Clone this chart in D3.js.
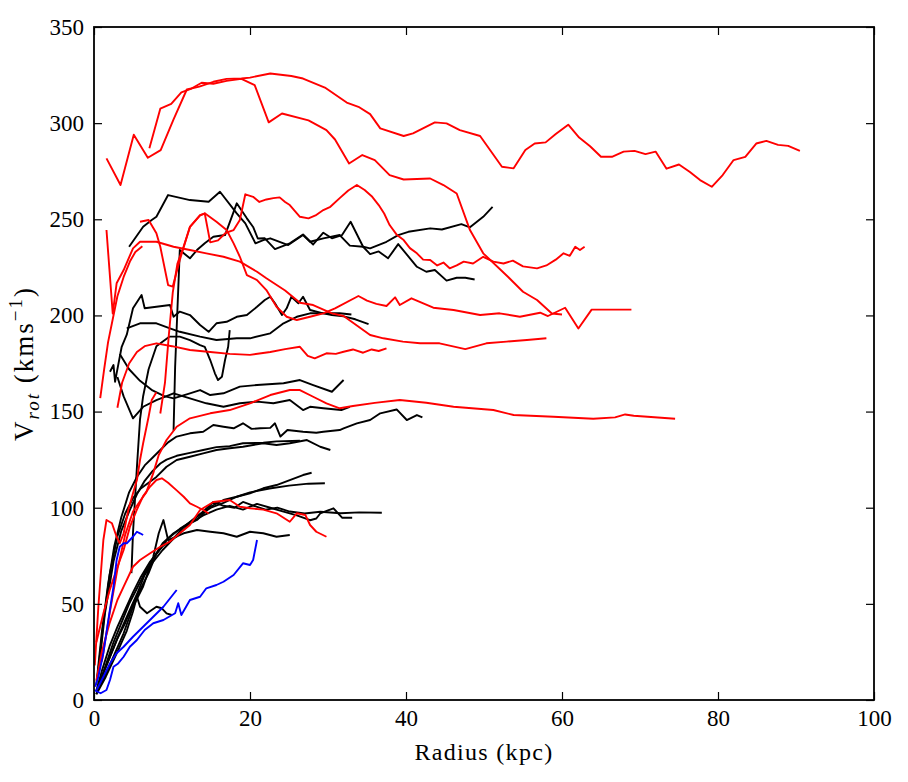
<!DOCTYPE html>
<html>
<head>
<meta charset="utf-8">
<script src="https://cdn.jsdelivr.net/npm/d3@7"></script>
<style>
  html, body { margin: 0; padding: 0; background: #fff; }
  svg { display: block; }
</style>
</head>
<body>
<svg id="chart" width="908" height="782"></svg>
<script>
// ---------------- data ----------------
const xTicks = [0, 20, 40, 60, 80, 100];
const yTicks = [0, 50, 100, 150, 200, 250, 300, 350];

// red curves [radius kpc, velocity km/s]
const r1 = [[1.6,281.7],[3.4,267.8],[5.1,294],[6.9,282],[8.55,286],[10.2,302],[11.9,317.5],[13.5,319],[15.3,321.5],[17,323],[18.9,323.2],[20,323.7],[22.6,325.8],[25.3,324.5],[26.8,323.2],[29.6,318.5],[32.4,310.7],[33.9,308.5],[35.4,304.7],[36.7,297.3],[39.7,293.3],[40.9,294.7],[43.7,300.4],[45.2,299.9],[46.9,296.4],[49.5,293.3],[52.3,277.3],[53.8,276.5],[55.3,286],[56.5,289.4],[57.9,290],[59.2,294.3],[60.8,299.2],[62.2,292.5],[63.6,288],[65,282.5],[66.4,282.5],[67.9,285.2],[69.3,285.6],[70.7,283.9],[72,285.2],[73.4,276.3],[75,278.5],[76.4,274.6],[77.7,270.4],[79.2,266.9],[80.6,273],[82,280.8],[83.5,282.5],[84.9,289.4],[86.2,290.8],[87.7,288.7],[89,288.2],[90.5,285.6]];
const r2 = [[7.1,287],[8.5,307.5],[9.9,310],[11.2,316],[12.5,318],[13.8,321],[15.3,320.5],[17,322],[18.9,323],[20.6,319.8],[22.4,300.4],[24.1,305],[27.5,301.4],[29.8,296.4],[30.9,291.5],[32.7,279],[34.4,283.4],[36,280.8],[37.9,273],[39.7,270.7],[43.1,271.2],[44.8,267.8],[46.5,263.4],[48.2,244.4],[49.9,232.3],[53.1,220],[55,212.3],[56.8,208],[58.7,201],[60,200.5]];
const r3 = [[8.5,149],[9.1,165],[9.6,190],[10.1,212],[10.7,227],[11.5,236],[12.3,246],[13.6,252],[14.2,253],[14.9,238],[15.9,239],[16.9,243],[17.9,244.4],[18.7,249.6],[19.4,263],[20.4,261.7],[21.2,259],[22.1,260.3],[23,261],[23.8,261.4],[24.5,259],[25.1,257.4],[26.4,251.3],[27.5,250.5],[28.4,252],[29.4,254.8],[30.3,256.5],[31.5,261],[32.6,265],[33.7,267.8],[34.7,265.2],[35.6,262],[36.5,257.4],[37.2,253],[37.9,247],[38.8,242],[39.7,239.2],[40.5,235],[41.4,232.3],[42.2,229],[43.1,228.8],[44,226],[44.8,227.5],[45.6,224.5],[46.5,226],[47.4,228],[48.6,227],[49.9,230.5],[51.2,228],[52.5,227],[53.7,228.5],[55,225.5],[56.8,224.5],[58,226],[59.2,229],[60.2,232.3],[61,231],[61.7,235.7],[62.3,234],[62.9,235.7]];
const r4 = [[1.6,244.4],[2.4,201],[2.9,216.7],[3.8,223.6],[5,234.9],[5.9,238.3],[8,238.3],[10.2,235.7],[12.3,234],[14.4,232.3],[16.6,230.5],[18.7,228],[20.9,222.7],[22.1,219.3],[24.5,213],[26.4,206.6],[28.1,205.4],[30.5,201.1],[32,199.7],[35.4,189.8],[37.1,188.1],[39.6,186.4],[41.8,185.5],[44.3,185.5],[47.6,182.5],[50.3,185.5],[52.9,186.4],[55.5,187.2],[58,188.1]];
const r5 = [[5.9,248.7],[7,249.6],[8,242.7],[8.5,235.7],[9.5,215.8],[10.1,215],[11,228.8],[12.3,246.1],[13.6,252.2],[14.2,253.1],[15.7,248.7],[17,244.4],[17.9,237.5],[18.7,230.5],[19.6,221],[20.9,218.4],[22.1,213.2],[23.4,204.5],[24.7,199.3],[26,197.6],[27.7,199.3],[29.4,201.1],[30.9,203.7],[33.9,210.1],[35,207.7],[36.2,206],[37.5,204.9],[38.6,209.4],[39.2,205.4],[40.7,208.9],[43.5,204],[46.1,202.8],[49.5,200.2],[52,201.1],[54.6,199.3],[57.2,201.4],[58.2,199.7],[60.4,204],[62.1,193.2],[63.8,203],[68.9,203]];
const r6 = [[1,20],[2,45],[3,68],[4,86],[5,98],[6,104],[6.7,108],[7.6,118],[8.3,127.4],[9.3,135.2],[10.6,142.1],[12.3,146.5],[14.9,149.1],[17.4,150.8],[20,154.3],[22.6,158.6],[25.1,161.2],[26.4,161.2],[28.1,157.7],[29.8,154.3],[31.5,151.7],[33.2,152.9],[36,154.5],[39.2,156],[42.6,154.6],[46.1,152.5],[51.2,150.8],[53.8,148.2],[58.9,147.3],[64,146.3],[66.8,147],[68.1,148.5],[69.2,147.8],[74.5,146.3]];
const r7 = [[3,152],[3.6,165],[4.5,175],[5.5,181],[6.5,184],[8,185.5],[10,184],[12.3,182],[14.9,181],[17.4,180],[20,179.5],[22.6,181],[24.5,182.5],[26.4,183.7],[27.4,179],[28.3,177.7],[29.8,180.3],[31,180],[32,181.1],[33.2,182.3],[34.5,180.6],[35.6,182.3],[36.5,181.5],[37.5,182.9]];
const r8 = [[0.3,30],[1.2,45],[2,57],[2.9,68],[3.8,78],[4.6,90],[5.5,99],[6.3,106],[7.2,111],[8,114.4],[8.7,115.3],[9.5,113],[10.6,109],[11.5,105.7],[12.3,102.3],[13.2,100.5],[14,98.8],[14.7,97]];
const r9 = [[0.1,18],[0.56,48.5],[1.2,83.2],[1.6,93.6],[2.3,91.9],[2.9,84.9],[3.3,81.5],[3.8,86.7],[4.4,98.8],[5,107.5],[5.5,114.4],[5.9,124.8],[6.3,133.5],[7,147.3],[7.4,156],[8,160]];
const r10 = [[0.3,10],[1,25],[2,40],[3,52],[3.8,59],[5,69.3],[5.9,72.8],[7.2,76.3],[8.5,79.7],[9.7,82.3],[11,86.7],[12.3,91],[13.6,98.8],[15.3,103],[17.4,104],[18.7,100.5],[20,99.7],[21.7,99],[23.4,97.1],[25.1,92.7],[26,97.1],[27.1,96.2],[27.7,91],[28.5,87.5],[29.8,84.9]];
const r11 = [[0.8,157],[1.3,172],[1.8,186],[2.4,198],[3,210],[3.8,220],[4.6,228],[5.3,233],[6.2,236]];

// black curves
const b1 = [[4.5,235.7],[6.3,246.1],[7.4,249.6],[8,251.3],[9.5,262.6],[12.3,260],[14.7,259.1],[16.15,264.3],[18.3,253.1],[19.4,247.9],[20.7,237.5],[21.7,239.2],[22.6,240.1],[24.9,236.6],[26.8,241.8],[27.7,238.3],[29.4,240.1],[31.5,241.8],[32.8,236.3],[34.5,235.7],[35.4,234.9],[37.5,238.3],[39,241.8],[40.3,243.5],[43.1,245.3],[44.6,244.7],[47.1,247.5],[48.2,245.8],[49.9,251.3],[51.1,256.5]];
const b2 = [[10.2,140],[10.4,173],[11,234],[12.3,229.7],[13.2,234],[14.2,237.5],[15.3,240.9],[16.8,241.8],[18.3,258.3],[19.6,250.5],[20.4,246],[21,240],[21.9,240.1],[23.2,234.5],[25.1,237.5],[26.8,242.1],[28.1,236.9],[29.4,243],[30.5,240.1],[31.8,241.8],[32.9,248.7],[34.5,235.7],[35.4,231.9],[36.5,233.3],[37.7,229.7],[39,237.1],[41.4,225.3],[42.6,222.7],[43.7,223.6],[45.2,218.1],[46.5,219.6],[47.6,219.6],[48.8,218.7]];
const b3 = [[4.2,193.3],[5.9,195.9],[8,195.9],[9.74,193.3],[11,191.5],[13.6,189],[15.7,187.2],[18.3,188.1],[20,188.1],[22.6,190.7],[24.3,195.9],[26,199.3],[27.7,201.1],[29.4,201.1],[31.5,201.1],[33,200.5]];
const b4 = [[2.05,170.7],[2.5,174.2],[2.7,165.5],[2.9,169.9],[3.55,183.7],[4.2,190],[5,203.7],[6.1,210.6],[6.5,203.7],[8,204.5],[9.74,205.4],[10.2,199.3],[11,202],[12.3,200.2],[13.6,195],[14.7,191.5],[15.7,195.9],[17,196.7],[18.3,199.3],[19.6,200.2],[20.9,204.5],[21.9,208],[22.6,209.7],[23.2,206.3],[24.1,200.2],[24.7,203.7],[25.3,209.7],[26.2,206.3],[26.8,209.7],[27.7,202.8],[29.4,201.1],[30.5,200.2],[32,199.5],[33.5,198],[35.2,195.5]];
const b5 = [[3.3,180],[4.5,172],[5.9,166],[7.5,161],[9,158],[10.2,156.9],[12.3,159.5],[13.6,161.2],[14.9,158.6],[16.6,159.5],[18.7,163],[20.9,163.8],[24.3,164.7],[26.4,166.4],[28.1,163.8],[30.5,160.3],[32,166.4]];
const b6 = [[3.0,168],[3.8,157.9],[5,146.5],[6.3,152.5],[8,156],[10.2,159.5],[12.3,156.9],[14.4,154.3],[16.6,152.5],[18.7,154.3],[20.9,155.2],[23,154.3],[25.1,156],[26.8,150.8],[27.7,152.5],[29.4,151.7],[31.7,150.8],[32.8,152.5]];
const b7 = [[0.3,8],[1,35],[1.8,60],[2.6,80],[3.5,95],[4.5,108],[5.5,116],[6.5,122],[7.5,126],[8.5,130],[9.5,134],[10.6,137],[12.3,138.7],[14,139.5],[15.3,143],[16.6,142.1],[17.9,141.3],[19.1,143.9],[20.2,141],[21.3,141.3],[22.6,141.5],[23.2,143.9],[23.9,137],[24.8,140.4],[26.8,139.5],[28.5,139],[29.4,139.5],[31.5,140.4],[32,141.3],[33.7,143.9],[35.4,145.6],[36.7,149.1],[38.8,151.1],[40.1,145.6],[41.4,148.2],[42.1,147]];
const b8 = [[0.4,10],[1.2,40],[2,65],[3,85],[4,97],[5,105],[6,110],[7,113],[8,116],[9.3,121.3],[10.6,124.8],[12.3,126.5],[14,128.3],[15.7,130],[17.4,130.9],[19.1,131.7],[21.7,133.5],[23.4,132.6],[25.1,133.5],[27.3,135.2],[29,131.7],[30.3,130]];
const b9 = [[0.5,12],[1.4,45],[2.5,72],[3.5,88],[4.5,98],[5.5,107],[6.5,114],[7.5,119],[8.5,123],[9.3,125],[10.6,127],[12.3,128.5],[14,130],[15.7,131.5],[17.4,132],[19.1,133.5],[21.7,133.8],[23.4,134.5],[26.4,134.8]];
const b10 = [[0.3,3],[1,12],[2,22],[3,32],[4,40],[5,50],[6,58],[7,66],[8,76.3],[8.8,81.5],[10.2,86.7],[11.5,90.1],[13.2,93.6],[14.9,100.5],[16.6,104],[18.3,105.7],[20,107.5],[21.7,110.1],[23.4,111.8],[25.1,114.4],[26.8,117],[27.9,118.2]];
const b11 = [[0.4,4],[1.2,14],[2.2,24],[3.3,35],[4.4,45],[5.5,55],[6.5,65],[7.6,72],[8.8,78],[10.2,84],[11.5,90],[13.2,95.5],[15,100],[16.6,102.5],[18.3,105.7],[20,108],[22.5,110],[25,111.5],[27.5,112.5],[29.6,112.7]];
const b12 = [[0.3,5],[1,15],[2,28],[3,38],[4,47],[5,56],[6,64],[7.2,72],[8.8,80],[10.6,85],[12.3,91.9],[14,96],[15.7,99],[17.4,101],[19.1,99],[20.9,102],[22.6,100],[24.3,98],[26,96],[27.7,93.5],[28.5,94.4],[29,97],[30.7,99.7],[31.8,94.8],[33.1,94.8]];
const b13 = [[0.5,6],[1.5,18],[2.5,30],[3.5,40],[4.5,50],[5.5,58],[6.5,66],[8,76],[9.5,84],[11,89],[12.5,93],[14,98],[15.3,103],[16.6,101],[18,100],[19.1,103],[20.5,101],[22,99],[23.5,100],[25.1,98],[27,97],[29,97.9],[31.6,97.1],[34,97.6],[36.9,97.4]];
const b14 = [[0.5,5],[2,18],[3.8,34.7],[5,48.5],[6.3,59],[7.6,74.5],[8.3,86.7],[8.9,93.6],[9.5,83.2],[11.5,86.7],[13.2,88.4],[14.9,87.5],[16.6,86.7],[18.3,84.9],[20,87.5],[21.7,86.7],[23.4,84.9],[25.1,85.8]];
const b15 = [[0.3,3],[1.5,12],[3,25],[4.2,36],[5,46],[5.5,53.7],[5.9,48.5],[6.8,45.1],[7.4,46.8],[8,48.5],[8.7,47.7],[9.3,45.1],[9.96,44.2]];
const b16 = [[4.8,66],[5,87],[5.5,121],[5.9,146],[6.3,158],[7,172],[8,184],[9.7,189],[11,189],[12.3,187.2],[13.6,184.6],[14.2,183.7],[14.9,176.8],[15.5,169.9],[15.9,166.4],[16.4,168.1],[16.8,176.8],[17.2,183.7],[17.4,192.4]];

// blue curves
const u1 = [[0.15,6.9],[0.56,12.1],[1.2,24.3],[1.84,41.6],[2.5,58.9],[2.9,72.8],[3.3,79.7],[3.8,81.5],[4.2,81.5],[4.6,83.2],[5,84.9],[5.5,87.5],[5.9,86.7],[6.3,85.8]];
const u2 = [[0.34,5.2],[1.2,12.1],[2.05,19],[2.9,24.3],[3.8,27.7],[5,32.9],[6.3,38.1],[7.6,43.3],[8.9,48.5],[10.6,57.2]];
const u3 = [[0,5.2],[0.85,3.5],[1.6,5.2],[2.05,10.4],[2.5,17.3],[3.1,19],[3.8,22.5],[4.6,27.7],[5.5,31.2],[6.5,36.4],[7.6,39.9],[8.9,41.6],[10.4,45.1],[10.8,50.3],[11.2,44.2],[12.3,52],[13.6,53.7],[14.4,58.1],[15.7,59.8],[16.6,61.5],[17.9,65],[19.1,71.1],[20,70.2],[20.4,72.8],[20.9,83.2]];

const blackCurves = [b1,b2,b3,b4,b5,b6,b7,b8,b9,b10,b11,b12,b13,b14,b15,b16];
const redCurves = [r1,r2,r3,r4,r5,r6,r7,r8,r9,r10,r11];
const blueCurves = [u1,u2,u3];

// ---------------- chart ----------------
const W = 908, H = 782;
const m = {left: 94, top: 27, right: 34, bottom: 82};
const pw = W - m.left - m.right, ph = H - m.top - m.bottom;
const SERIF = "Liberation Serif";

const svg = d3.select("#chart");
const g = svg.append("g").attr("transform", `translate(${m.left},${m.top})`);

const x = d3.scaleLinear().domain([0, 100]).range([0, pw]);
const y = d3.scaleLinear().domain([0, 350]).range([ph, 0]);

g.append("clipPath").attr("id", "clip").append("rect").attr("width", pw).attr("height", ph);

const line = d3.line().x(d => x(d[0])).y(d => y(d[1]));
const plot = g.append("g").attr("clip-path", "url(#clip)");

function drawSet(set, color) {
  plot.append("g").selectAll("path").data(set).join("path")
    .attr("d", line)
    .attr("fill", "none")
    .attr("stroke", color)
    .attr("stroke-width", 1.9)
    .attr("stroke-linejoin", "round");
}
drawSet(blackCurves, "#000000");
drawSet(redCurves, "#ff0000");
drawSet(blueCurves, "#0000ff");

// axes (inward ticks on all four sides)
const tickLen = 8;
const axB = g.append("g").attr("transform", `translate(0,${ph})`)
  .call(d3.axisBottom(x).tickValues(xTicks).tickSize(-tickLen).tickSizeOuter(0).tickPadding(10).tickFormat(d3.format("d")));
const axL = g.append("g")
  .call(d3.axisLeft(y).tickValues(yTicks).tickSize(-tickLen).tickSizeOuter(0).tickPadding(10).tickFormat(d3.format("d")));
const axT = g.append("g")
  .call(d3.axisTop(x).tickValues(xTicks).tickSize(-tickLen).tickSizeOuter(0).tickFormat(""));
const axR = g.append("g").attr("transform", `translate(${pw},0)`)
  .call(d3.axisRight(y).tickValues(yTicks).tickSize(-tickLen).tickSizeOuter(0).tickFormat(""));
[axB, axL, axT, axR].forEach(a => {
  a.select(".domain").remove();
  a.selectAll(".tick line").attr("stroke", "#000").attr("stroke-width", 1.2);
  a.attr("font-family", SERIF).attr("font-size", 23);
  a.selectAll(".tick text").attr("fill", "#000");
});

// frame
g.append("rect").attr("width", pw).attr("height", ph)
  .attr("fill", "none").attr("stroke", "#000").attr("stroke-width", 1.8);

// axis titles
svg.append("text")
  .attr("x", m.left + pw / 2).attr("y", 760)
  .attr("text-anchor", "middle")
  .attr("font-family", SERIF)
  .attr("font-size", 24)
  .attr("letter-spacing", 1.3)
  .text("Radius (kpc)");

const yl = svg.append("text")
  .attr("transform", `translate(33,${m.top + ph / 2}) rotate(-90)`)
  .attr("text-anchor", "middle")
  .attr("font-family", SERIF)
  .attr("font-size", 27)
  .attr("letter-spacing", 2);
yl.append("tspan").text("V");
yl.append("tspan").attr("dy", 6).attr("font-size", 19).attr("font-style", "italic").text("rot");
yl.append("tspan").attr("dy", -6).text(" (kms");
yl.append("tspan").attr("dy", -11).attr("font-size", 19).text("\u22121");
yl.append("tspan").attr("dy", 11).text(")");
</script>
</body>
</html>
